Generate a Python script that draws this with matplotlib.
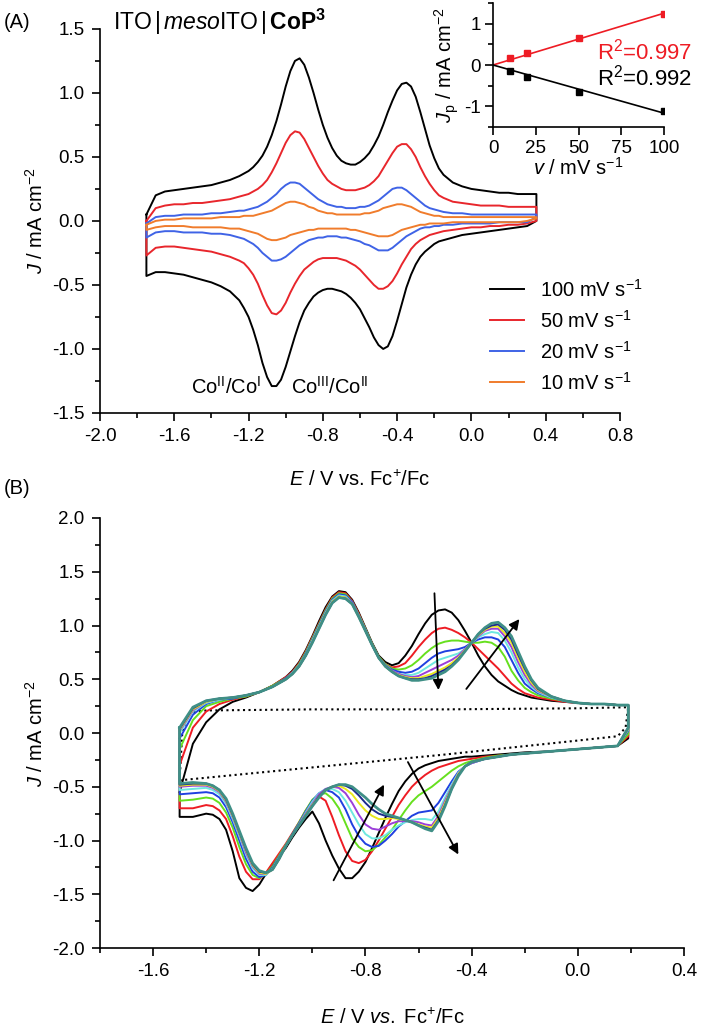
import matplotlib
matplotlib.use('Agg')
import matplotlib.pyplot as plt
from matplotlib.ticker import MultipleLocator

# ---------------- panel A: CVs at four scan rates ----------------
EA = [-1.75, -1.70, -1.65, -1.60, -1.55, -1.50, -1.45, -1.40, -1.35, -1.30, -1.25,
      -1.225, -1.20, -1.175, -1.15, -1.125, -1.10, -1.075, -1.05, -1.025, -1.00,
      -0.975, -0.95, -0.925, -0.90, -0.875, -0.85, -0.825, -0.80, -0.775, -0.75,
      -0.725, -0.70, -0.675, -0.65, -0.625, -0.60, -0.575, -0.55, -0.525, -0.50,
      -0.475, -0.45, -0.425, -0.40, -0.375, -0.35, -0.325, -0.30, -0.275, -0.25,
      -0.225, -0.20, -0.175,
      -0.15, -0.10, -0.05, 0.00, 0.05, 0.10, 0.15, 0.20, 0.25, 0.30, 0.35]

a100_up = [0.05, 0.20, 0.23, 0.24, 0.25, 0.26, 0.27, 0.28, 0.30, 0.32, 0.35,
           0.37, 0.39, 0.42, 0.46, 0.51, 0.58, 0.67, 0.78, 0.91, 1.05,
           1.17, 1.25, 1.27, 1.22, 1.12, 1.00, 0.87, 0.75, 0.65, 0.57,
           0.51, 0.47, 0.45, 0.44, 0.44, 0.46, 0.49, 0.53, 0.59, 0.66,
           0.75, 0.85, 0.94, 1.02, 1.07, 1.08, 1.05, 0.97, 0.85, 0.72,
           0.59, 0.49, 0.41,
           0.36, 0.30, 0.27, 0.25, 0.24, 0.23, 0.22, 0.22, 0.21, 0.21, 0.21]
a100_dn = [-0.43, -0.40, -0.40, -0.41, -0.42, -0.44, -0.46, -0.48, -0.51, -0.55, -0.62,
           -0.68, -0.75, -0.85, -0.97, -1.11, -1.22, -1.29, -1.29, -1.24, -1.14,
           -1.02, -0.90, -0.79, -0.70, -0.64, -0.59, -0.56, -0.54, -0.53, -0.53,
           -0.54, -0.55, -0.57, -0.60, -0.64, -0.69, -0.76, -0.83, -0.91, -0.97,
           -1.00, -0.98, -0.90, -0.78, -0.65, -0.52, -0.42, -0.34, -0.28, -0.24,
           -0.21, -0.18, -0.16,
           -0.15, -0.13, -0.11, -0.10, -0.09, -0.08, -0.07, -0.06, -0.05, -0.04, 0.00]
a50_up = [0.00, 0.10, 0.12, 0.13, 0.13, 0.14, 0.14, 0.15, 0.16, 0.17, 0.19,
          0.20, 0.21, 0.23, 0.25, 0.28, 0.32, 0.38, 0.45, 0.53, 0.61,
          0.67, 0.70, 0.69, 0.64, 0.57, 0.50, 0.43, 0.37, 0.32, 0.29,
          0.27, 0.25, 0.24, 0.24, 0.24, 0.25, 0.26, 0.28, 0.31, 0.35,
          0.41, 0.47, 0.53, 0.58, 0.60, 0.60, 0.56, 0.50, 0.42, 0.35,
          0.29, 0.24, 0.20,
          0.18, 0.15, 0.14, 0.13, 0.12, 0.12, 0.12, 0.11, 0.11, 0.11, 0.11]
a50_dn = [-0.27, -0.21, -0.20, -0.20, -0.21, -0.22, -0.23, -0.24, -0.26, -0.28, -0.31,
          -0.33, -0.37, -0.42, -0.49, -0.58, -0.66, -0.72, -0.73, -0.70, -0.64,
          -0.56, -0.49, -0.43, -0.38, -0.35, -0.32, -0.30, -0.29, -0.29, -0.29,
          -0.29, -0.30, -0.31, -0.33, -0.35, -0.38, -0.42, -0.46, -0.50, -0.53,
          -0.53, -0.51, -0.47, -0.41, -0.34, -0.28, -0.22, -0.18, -0.15, -0.13,
          -0.11, -0.10, -0.09,
          -0.08, -0.07, -0.06, -0.05, -0.05, -0.04, -0.04, -0.03, -0.03, -0.02, 0.00]
a20_up = [-0.02, 0.03, 0.04, 0.04, 0.05, 0.05, 0.05, 0.06, 0.06, 0.07, 0.08,
          0.08, 0.09, 0.10, 0.11, 0.13, 0.15, 0.18, 0.21, 0.25, 0.28,
          0.30, 0.30, 0.29, 0.26, 0.23, 0.20, 0.17, 0.15, 0.13, 0.12,
          0.11, 0.11, 0.10, 0.10, 0.10, 0.11, 0.11, 0.12, 0.14, 0.16,
          0.19, 0.22, 0.25, 0.26, 0.26, 0.24, 0.21, 0.18, 0.15, 0.12,
          0.10, 0.09, 0.08,
          0.07, 0.06, 0.06, 0.05, 0.05, 0.05, 0.05, 0.05, 0.05, 0.05, 0.05]
a20_dn = [-0.13, -0.09, -0.08, -0.08, -0.09, -0.09, -0.09, -0.10, -0.10, -0.11, -0.13,
          -0.14, -0.16, -0.18, -0.21, -0.25, -0.28, -0.31, -0.31, -0.30, -0.28,
          -0.25, -0.22, -0.19, -0.17, -0.15, -0.14, -0.13, -0.13, -0.12, -0.12,
          -0.12, -0.13, -0.13, -0.14, -0.15, -0.16, -0.18, -0.19, -0.21, -0.23,
          -0.23, -0.23, -0.21, -0.18, -0.15, -0.12, -0.10, -0.08, -0.06, -0.05,
          -0.05, -0.04, -0.04,
          -0.03, -0.03, -0.02, -0.02, -0.02, -0.02, -0.01, -0.01, -0.01, -0.01, 0.03]
a10_up = [-0.03, 0.00, 0.01, 0.01, 0.02, 0.02, 0.02, 0.02, 0.03, 0.03, 0.03,
          0.04, 0.04, 0.04, 0.05, 0.06, 0.07, 0.08, 0.10, 0.12, 0.14,
          0.15, 0.15, 0.14, 0.13, 0.11, 0.10, 0.08, 0.07, 0.06, 0.06,
          0.05, 0.05, 0.05, 0.05, 0.05, 0.05, 0.06, 0.06, 0.07, 0.08,
          0.10, 0.11, 0.12, 0.13, 0.13, 0.12, 0.11, 0.09, 0.07, 0.06,
          0.05, 0.04, 0.04,
          0.03, 0.03, 0.03, 0.03, 0.03, 0.03, 0.03, 0.03, 0.03, 0.03, 0.03]
a10_dn = [-0.07, -0.05, -0.04, -0.04, -0.04, -0.05, -0.05, -0.05, -0.05, -0.06, -0.06,
          -0.07, -0.08, -0.09, -0.10, -0.12, -0.14, -0.15, -0.15, -0.14, -0.13,
          -0.11, -0.10, -0.09, -0.08, -0.07, -0.07, -0.06, -0.06, -0.06, -0.06,
          -0.06, -0.06, -0.06, -0.07, -0.07, -0.08, -0.09, -0.10, -0.11, -0.12,
          -0.12, -0.12, -0.11, -0.09, -0.07, -0.06, -0.05, -0.04, -0.03, -0.03,
          -0.02, -0.02, -0.02,
          -0.02, -0.01, -0.01, -0.01, -0.01, -0.01, -0.01, -0.01, -0.01, 0.00, 0.02]

a_labels = ['100 mV s$^{-1}$', '50 mV s$^{-1}$', '20 mV s$^{-1}$', '10 mV s$^{-1}$']
a_colors = ['black', '#e8262c', '#3f63e6', '#f07c2c']

# ---------------- inset: peak current vs scan rate ----------------
scan_rate = [10, 20, 50, 100]
jp_anodic = [0.16, 0.29, 0.65, 1.23]
jp_cathodic = [-0.14, -0.28, -0.65, -1.12]

# ---------------- panel B: successive scans ----------------
EB_up = [-1.50, -1.45, -1.40, -1.35, -1.30, -1.25, -1.20, -1.15, -1.10,
         -1.075, -1.05, -1.025, -1.00, -0.975, -0.95, -0.925, -0.90, -0.875, -0.85,
         -0.825, -0.80, -0.775, -0.75, -0.725, -0.70, -0.675, -0.65, -0.625, -0.60,
         -0.575, -0.55, -0.525, -0.50, -0.475, -0.45, -0.425, -0.40, -0.375, -0.35,
         -0.325, -0.30, -0.275, -0.25, -0.225, -0.20, -0.175, -0.15,
         -0.10, -0.05, 0.00, 0.05, 0.10, 0.15, 0.19]
EB_dn = [-1.50, -1.45, -1.40,
         -1.375, -1.35, -1.325, -1.30, -1.275, -1.25, -1.225, -1.20, -1.175, -1.15,
         -1.125, -1.10, -1.075, -1.05, -1.025, -1.00, -0.975, -0.95, -0.925, -0.90,
         -0.875, -0.85, -0.825, -0.80, -0.775, -0.75, -0.725, -0.70, -0.675, -0.65,
         -0.625, -0.60, -0.575, -0.55, -0.525, -0.50, -0.475, -0.45, -0.425, -0.40,
         -0.35, -0.30, -0.25, -0.20, -0.10, 0.00, 0.10, 0.15, 0.19]

b_up = [
    # black (1st scan)
    [-0.55, -0.10, 0.10, 0.22, 0.29, 0.33, 0.38, 0.44, 0.52,
     0.58, 0.66, 0.77, 0.90, 1.04, 1.17, 1.27, 1.32, 1.31, 1.24,
     1.12, 0.98, 0.84, 0.72, 0.66, 0.63, 0.65, 0.72, 0.81, 0.92,
     1.02, 1.10, 1.14, 1.15, 1.12, 1.05, 0.95, 0.84, 0.72, 0.62,
     0.54, 0.48, 0.44, 0.40, 0.37, 0.35, 0.33, 0.32,
     0.30, 0.29, 0.28, 0.27, 0.27, 0.26, 0.26],
    # red
    [-0.30, 0.05, 0.20, 0.27, 0.31, 0.34, 0.38, 0.44, 0.52,
     0.57, 0.65, 0.76, 0.89, 1.02, 1.15, 1.26, 1.31, 1.30, 1.23,
     1.11, 0.97, 0.83, 0.71, 0.64, 0.61, 0.62, 0.65, 0.72, 0.80,
     0.87, 0.93, 0.97, 0.98, 0.96, 0.93, 0.89, 0.84, 0.78, 0.72,
     0.66, 0.60, 0.53, 0.46, 0.41, 0.37, 0.35, 0.33,
     0.31, 0.29, 0.28, 0.27, 0.27, 0.26, 0.26],
    # green
    [-0.15, 0.12, 0.25, 0.29, 0.32, 0.34, 0.38, 0.44, 0.51,
     0.56, 0.64, 0.75, 0.88, 1.01, 1.14, 1.25, 1.30, 1.29, 1.22,
     1.10, 0.97, 0.83, 0.71, 0.64, 0.60, 0.59, 0.60, 0.63, 0.68,
     0.74, 0.79, 0.83, 0.85, 0.86, 0.86, 0.85, 0.84, 0.84, 0.85,
     0.84, 0.80, 0.71, 0.58, 0.49, 0.42, 0.38, 0.35,
     0.32, 0.30, 0.28, 0.27, 0.27, 0.26, 0.26],
    # blue
    [-0.05, 0.17, 0.27, 0.31, 0.32, 0.35, 0.38, 0.43, 0.51,
     0.56, 0.63, 0.74, 0.87, 1.00, 1.13, 1.24, 1.29, 1.28, 1.22,
     1.09, 0.96, 0.82, 0.70, 0.63, 0.59, 0.57, 0.56, 0.57, 0.60,
     0.65, 0.70, 0.74, 0.76, 0.77, 0.78, 0.80, 0.84, 0.87, 0.89,
     0.89, 0.87, 0.80, 0.68, 0.56, 0.46, 0.41, 0.37,
     0.33, 0.30, 0.28, 0.27, 0.27, 0.26, 0.26],
    # cyan
    [0.00, 0.20, 0.28, 0.31, 0.33, 0.35, 0.38, 0.43, 0.50,
     0.56, 0.63, 0.73, 0.86, 0.99, 1.12, 1.23, 1.28, 1.27, 1.21,
     1.09, 0.96, 0.82, 0.70, 0.63, 0.58, 0.55, 0.54, 0.54, 0.56,
     0.60, 0.64, 0.68, 0.70, 0.72, 0.74, 0.78, 0.84, 0.89, 0.92,
     0.94, 0.93, 0.86, 0.75, 0.61, 0.50, 0.43, 0.38,
     0.33, 0.30, 0.28, 0.27, 0.27, 0.26, 0.26],
    # purple
    [0.02, 0.21, 0.29, 0.32, 0.33, 0.35, 0.38, 0.43, 0.50,
     0.55, 0.62, 0.72, 0.85, 0.98, 1.11, 1.22, 1.27, 1.26, 1.21,
     1.09, 0.96, 0.82, 0.70, 0.63, 0.58, 0.55, 0.53, 0.52, 0.53,
     0.56, 0.59, 0.62, 0.65, 0.68, 0.72, 0.78, 0.84, 0.90, 0.95,
     0.97, 0.97, 0.90, 0.80, 0.66, 0.54, 0.45, 0.39,
     0.34, 0.30, 0.28, 0.27, 0.27, 0.26, 0.26],
    # yellow
    [0.03, 0.22, 0.29, 0.32, 0.33, 0.35, 0.38, 0.43, 0.50,
     0.55, 0.62, 0.72, 0.85, 0.98, 1.11, 1.22, 1.27, 1.26, 1.20,
     1.08, 0.95, 0.82, 0.70, 0.62, 0.57, 0.54, 0.52, 0.51, 0.51,
     0.53, 0.55, 0.58, 0.61, 0.65, 0.70, 0.77, 0.84, 0.91, 0.96,
     0.99, 0.99, 0.93, 0.84, 0.70, 0.57, 0.47, 0.40,
     0.34, 0.30, 0.28, 0.27, 0.27, 0.26, 0.26],
    # navy
    [0.04, 0.23, 0.30, 0.32, 0.33, 0.35, 0.38, 0.43, 0.50,
     0.55, 0.62, 0.72, 0.84, 0.97, 1.10, 1.21, 1.26, 1.25, 1.20,
     1.08, 0.95, 0.82, 0.70, 0.62, 0.57, 0.53, 0.51, 0.50, 0.50,
     0.51, 0.53, 0.56, 0.59, 0.63, 0.69, 0.76, 0.84, 0.92, 0.97,
     1.00, 1.01, 0.96, 0.87, 0.73, 0.60, 0.49, 0.41,
     0.34, 0.30, 0.28, 0.27, 0.27, 0.26, 0.26],
    # teal (last scan)
    [0.05, 0.24, 0.30, 0.32, 0.33, 0.35, 0.38, 0.43, 0.50,
     0.55, 0.62, 0.72, 0.84, 0.97, 1.10, 1.21, 1.26, 1.25, 1.20,
     1.08, 0.95, 0.82, 0.70, 0.62, 0.57, 0.53, 0.51, 0.49, 0.49,
     0.50, 0.51, 0.54, 0.57, 0.62, 0.68, 0.76, 0.84, 0.92, 0.98,
     1.02, 1.03, 0.98, 0.90, 0.76, 0.62, 0.50, 0.42,
     0.34, 0.30, 0.28, 0.27, 0.27, 0.26, 0.26],
]
b_dn = [
    [-0.78, -0.78, -0.75,
     -0.76, -0.80, -0.90, -1.10, -1.35, -1.44, -1.47, -1.41, -1.31, -1.22,
     -1.15, -1.07, -0.97, -0.88, -0.80, -0.73, -0.84, -1.00, -1.14, -1.26,
     -1.35, -1.35, -1.29, -1.20, -1.07, -0.93, -0.79, -0.66, -0.54, -0.45,
     -0.38, -0.33, -0.30, -0.28, -0.26, -0.25, -0.24, -0.23, -0.22, -0.22,
     -0.21, -0.20, -0.19, -0.18, -0.17, -0.15, -0.13, -0.12, -0.05],
    [-0.70, -0.70, -0.67,
     -0.68, -0.72, -0.80, -0.96, -1.15, -1.29, -1.36, -1.36, -1.30, -1.21,
     -1.12, -1.03, -0.93, -0.83, -0.72, -0.63, -0.59, -0.63, -0.78, -0.95,
     -1.10, -1.19, -1.21, -1.18, -1.10, -1.00, -0.89, -0.78, -0.67, -0.58,
     -0.50, -0.44, -0.39, -0.35, -0.32, -0.30, -0.28, -0.26, -0.25, -0.24,
     -0.22, -0.21, -0.20, -0.19, -0.17, -0.15, -0.13, -0.12, -0.03],
    [-0.63, -0.62, -0.60,
     -0.61, -0.65, -0.74, -0.88, -1.06, -1.22, -1.32, -1.35, -1.31, -1.24,
     -1.14, -1.04, -0.94, -0.83, -0.72, -0.62, -0.57, -0.56, -0.61, -0.70,
     -0.84, -0.98, -1.06, -1.10, -1.09, -1.04, -0.97, -0.90, -0.81, -0.72,
     -0.64, -0.58, -0.54, -0.50, -0.45, -0.40, -0.35, -0.31, -0.28, -0.26,
     -0.23, -0.21, -0.20, -0.19, -0.17, -0.15, -0.13, -0.12, -0.01],
    [-0.57, -0.56, -0.55,
     -0.56, -0.60, -0.69, -0.83, -1.00, -1.17, -1.29, -1.34, -1.32, -1.25,
     -1.15, -1.05, -0.94, -0.84, -0.73, -0.63, -0.56, -0.53, -0.55, -0.60,
     -0.71, -0.85, -0.96, -1.03, -1.06, -1.05, -1.00, -0.94, -0.87, -0.82,
     -0.77, -0.74, -0.73, -0.72, -0.65, -0.55, -0.45, -0.36, -0.31, -0.28,
     -0.24, -0.22, -0.20, -0.19, -0.17, -0.15, -0.13, -0.12, 0.02],
    [-0.53, -0.52, -0.51,
     -0.53, -0.57, -0.66, -0.80, -0.96, -1.13, -1.26, -1.32, -1.32, -1.26,
     -1.16, -1.05, -0.95, -0.85, -0.74, -0.64, -0.56, -0.52, -0.52, -0.55,
     -0.63, -0.74, -0.85, -0.94, -0.98, -0.98, -0.95, -0.90, -0.86, -0.83,
     -0.81, -0.80, -0.80, -0.81, -0.73, -0.60, -0.48, -0.37, -0.31, -0.28,
     -0.24, -0.22, -0.20, -0.19, -0.17, -0.15, -0.13, -0.12, 0.03],
    [-0.50, -0.49, -0.49,
     -0.51, -0.55, -0.64, -0.78, -0.94, -1.11, -1.24, -1.31, -1.31, -1.27,
     -1.17, -1.05, -0.95, -0.85, -0.75, -0.66, -0.57, -0.52, -0.50, -0.51,
     -0.56, -0.65, -0.76, -0.85, -0.89, -0.90, -0.87, -0.84, -0.82, -0.82,
     -0.82, -0.83, -0.85, -0.86, -0.77, -0.63, -0.50, -0.38, -0.31, -0.28,
     -0.24, -0.22, -0.20, -0.19, -0.17, -0.15, -0.13, -0.12, 0.04],
    [-0.49, -0.48, -0.48,
     -0.50, -0.54, -0.63, -0.77, -0.93, -1.09, -1.23, -1.30, -1.31, -1.27,
     -1.17, -1.05, -0.95, -0.86, -0.76, -0.67, -0.59, -0.53, -0.50, -0.49,
     -0.52, -0.57, -0.65, -0.72, -0.77, -0.80, -0.80, -0.79, -0.80, -0.81,
     -0.83, -0.85, -0.87, -0.88, -0.79, -0.65, -0.51, -0.38, -0.31, -0.27,
     -0.24, -0.22, -0.20, -0.19, -0.17, -0.15, -0.13, -0.12, 0.04],
    [-0.48, -0.47, -0.47,
     -0.49, -0.53, -0.62, -0.76, -0.92, -1.08, -1.22, -1.29, -1.30, -1.27,
     -1.17, -1.05, -0.95, -0.86, -0.77, -0.68, -0.59, -0.53, -0.50, -0.48,
     -0.49, -0.52, -0.58, -0.65, -0.71, -0.75, -0.77, -0.78, -0.79, -0.81,
     -0.83, -0.86, -0.88, -0.90, -0.81, -0.67, -0.52, -0.39, -0.31, -0.27,
     -0.24, -0.22, -0.20, -0.19, -0.17, -0.15, -0.13, -0.12, 0.05],
    [-0.47, -0.46, -0.47,
     -0.49, -0.53, -0.61, -0.75, -0.91, -1.07, -1.21, -1.28, -1.30, -1.27,
     -1.17, -1.05, -0.95, -0.86, -0.77, -0.68, -0.60, -0.53, -0.50, -0.48,
     -0.48, -0.50, -0.55, -0.60, -0.66, -0.71, -0.75, -0.77, -0.79, -0.81,
     -0.83, -0.86, -0.89, -0.91, -0.82, -0.68, -0.52, -0.40, -0.31, -0.27,
     -0.24, -0.22, -0.20, -0.19, -0.17, -0.15, -0.13, -0.12, 0.05],
]
b_colors = ['black', '#ee1c24', '#66e01e', '#2040e0', '#6ee8e0',
            '#9b3fd9', '#e8e81c', '#1c2a8c', '#3f8f86']

# blank electrode (dotted)
blank_E_up = [-1.50, -1.49, -1.47, -1.44, -1.40, -1.00, -0.50, 0.00, 0.19]
blank_J_up = [-0.44, 0.00, 0.15, 0.20, 0.21, 0.22, 0.22, 0.23, 0.24]
blank_E_dn = [0.19, 0.18, 0.15, 0.00, -0.50, -1.00, -1.50]
blank_J_dn = [0.24, 0.05, -0.03, -0.07, -0.20, -0.32, -0.44]

# arrows in B: (tail, head)
b_arrows = [((-0.54, 1.30), (-0.525, 0.40)),
            ((-0.42, 0.41), (-0.22, 1.06)),
            ((-0.92, -1.37), (-0.73, -0.48)),
            ((-0.64, -0.27), (-0.45, -1.13))]

FS = 13.5
FS_TEXT = 14.5


def style_axis(ax):
    ax.spines['top'].set_visible(False)
    ax.spines['right'].set_visible(False)
    for s in ['left', 'bottom']:
        ax.spines[s].set_linewidth(1.2)
    ax.tick_params(which='major', direction='out', length=6, width=1.2,
                   labelsize=FS, pad=5)
    ax.tick_params(which='minor', direction='out', length=3.5, width=1.2)


def loop(E_up, up, E_dn, dn):
    xs = list(E_up) + list(E_dn[::-1]) + [E_up[0]]
    ys = list(up) + list(dn[::-1]) + [up[0]]
    return xs, ys


def draw_panel_a(fig):
    ax = fig.add_axes([0.1418, 0.6014, 0.7376, 0.3707])
    curves = [(a100_up, a100_dn), (a50_up, a50_dn), (a20_up, a20_dn), (a10_up, a10_dn)]
    for (up, dn), c, lab in zip(curves, a_colors, a_labels):
        xs, ys = loop(EA, up, EA, dn)
        ax.plot(xs, ys, color=c, lw=1.4, label=lab)
    ax.set_xlim(-2.0, 0.8)
    ax.set_ylim(-1.5, 1.5)
    ax.xaxis.set_major_locator(MultipleLocator(0.4))
    ax.xaxis.set_minor_locator(MultipleLocator(0.2))
    ax.yaxis.set_major_locator(MultipleLocator(0.5))
    ax.yaxis.set_minor_locator(MultipleLocator(0.25))
    style_axis(ax)
    ax.set_xlabel(r'$E$ / V vs. Fc$^{+}$/Fc', fontsize=FS_TEXT, labelpad=18)
    ax.set_ylabel(r'$J$ / mA cm$^{-2}$', fontsize=FS_TEXT, labelpad=4)
    ax.text(-1.13, -1.3, r'Co$^{\mathrm{II}}$/Co$^{\mathrm{I}}$', fontsize=FS_TEXT,
            va='center', ha='right')
    ax.text(-0.97, -1.3, r'Co$^{\mathrm{III}}$/Co$^{\mathrm{II}}$', fontsize=FS_TEXT,
            va='center', ha='left')
    ax.legend(loc='lower right', bbox_to_anchor=(1.06, 0.03), frameon=False,
              fontsize=FS_TEXT, handlelength=1.7, labelspacing=0.45, borderaxespad=0)


def draw_inset(fig):
    ax = fig.add_axes([0.6993, 0.8774, 0.2426, 0.1197])
    ax.plot(scan_rate, jp_anodic, 's', color='#ee1c24', ms=4)
    ax.plot(scan_rate, jp_cathodic, 's', color='black', ms=4)
    # linear fits through the origin
    for jp, c in [(jp_anodic, '#ee1c24'), (jp_cathodic, 'black')]:
        k = sum(v * j for v, j in zip(scan_rate, jp)) / sum(v * v for v in scan_rate)
        ax.plot([0, 100], [0, 100 * k], color=c, lw=1.2)
    ax.set_xlim(0, 100)
    ax.set_ylim(-1.5, 1.5)
    ax.set_xticks([0, 25, 50, 75, 100])
    ax.yaxis.set_major_locator(MultipleLocator(1))
    ax.yaxis.set_minor_locator(MultipleLocator(0.5))
    style_axis(ax)
    ax.tick_params(which='major', pad=3)
    ax.patch.set_alpha(0)
    ax.set_xlabel(r'$v$ / mV s$^{-1}$', fontsize=FS_TEXT, labelpad=0)
    ax.set_ylabel(r'$J_{\mathrm{p}}$ / mA cm$^{-2}$', fontsize=FS_TEXT, labelpad=2)
    ax.text(0.61, 0.61, r'R$^2$=0.997', color='#ee1c24', fontsize=16,
            transform=ax.transAxes, va='center')
    ax.text(0.61, 0.40, r'R$^2$=0.992', color='black', fontsize=16,
            transform=ax.transAxes, va='center')


def draw_panel_b(fig):
    ax = fig.add_axes([0.1418, 0.0849, 0.8284, 0.4151])
    ax.plot(blank_E_up + blank_E_dn, blank_J_up + blank_J_dn, ':', color='black', lw=1.5)
    for up, dn, c in zip(b_up, b_dn, b_colors):
        xs, ys = loop(EB_up, up, EB_dn, dn)
        lw = 2.0 if c == b_colors[-1] else 1.4
        ax.plot(xs, ys, color=c, lw=lw)
    for tail, head in b_arrows:
        ax.annotate('', xy=head, xytext=tail,
                    arrowprops=dict(arrowstyle='-|>', color='black', lw=1.3,
                                    mutation_scale=15, shrinkA=0, shrinkB=0))
    ax.set_xlim(-1.8, 0.4)
    ax.set_ylim(-2.0, 2.0)
    ax.set_xticks([-1.6, -1.2, -0.8, -0.4, 0.0, 0.4])
    ax.xaxis.set_minor_locator(MultipleLocator(0.2))
    ax.yaxis.set_major_locator(MultipleLocator(0.5))
    ax.yaxis.set_minor_locator(MultipleLocator(0.25))
    style_axis(ax)
    ax.set_xlabel(r'$E$ / V $vs.$ Fc$^{+}$/Fc', fontsize=FS_TEXT, labelpad=20)
    ax.set_ylabel(r'$J$ / mA cm$^{-2}$', fontsize=FS_TEXT, labelpad=4)


def main():
    plt.rcParams['font.family'] = ['Liberation Sans', 'DejaVu Sans']
    plt.rcParams['mathtext.fontset'] = 'custom'
    plt.rcParams['mathtext.rm'] = 'Liberation Sans'
    plt.rcParams['mathtext.it'] = 'Liberation Sans:italic'
    plt.rcParams['mathtext.bf'] = 'Liberation Sans:bold'
    plt.rcParams['axes.unicode_minus'] = False

    fig = plt.figure(figsize=(7.05, 10.36), dpi=100)
    draw_panel_a(fig)
    draw_inset(fig)
    draw_panel_b(fig)
    fig.text(0.005, 1 - 22 / 1036, '(A)', fontsize=FS_TEXT, va='center')
    fig.text(113 / 705, 1 - 22 / 1036,
             r'ITO$\,|\,\mathit{meso}$ITO$\,|\,\mathbf{CoP}^{\mathbf{3}}$',
             fontsize=16.5, va='center', ha='left')
    fig.text(0.005, 1 - 488 / 1036, '(B)', fontsize=FS_TEXT, va='center')
    fig.savefig('out.png', dpi=100)


if __name__ == '__main__':
    main()
